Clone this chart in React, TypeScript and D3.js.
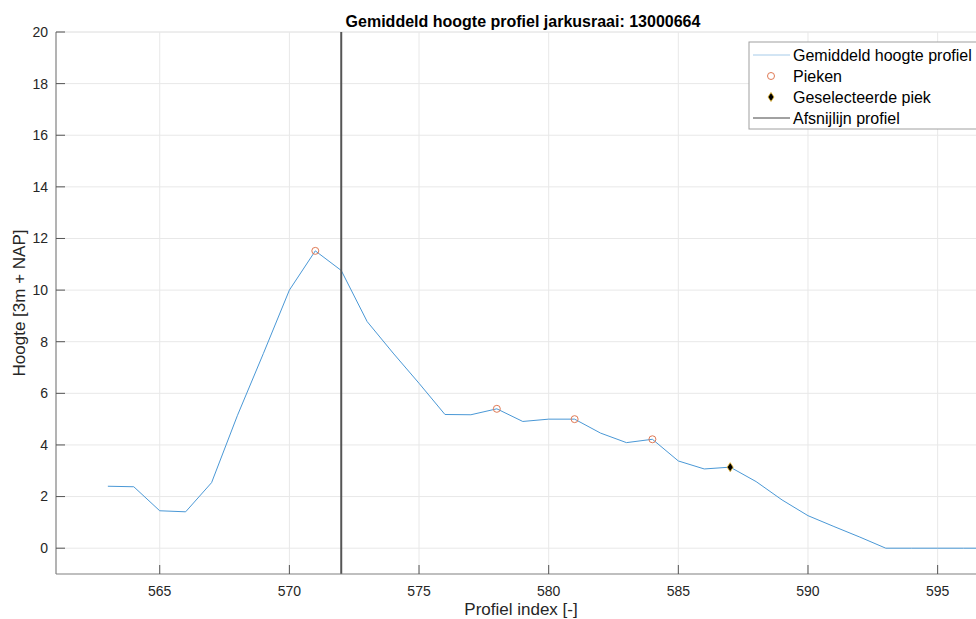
import * as d3 from "d3";
import React from "react";

// profile index and mean height
const profielIndex = [
  563, 564, 565, 566, 567, 568, 569, 570, 571, 572, 573, 574, 575, 576, 577, 578, 579, 580,
  581, 582, 583, 584, 585, 586, 587, 588, 589, 590, 591, 592, 593, 594, 595, 596, 597,
];
const hoogte = [
  2.4, 2.38, 1.45, 1.41, 2.54, 5.15, 7.55, 10.0, 11.52, 10.76, 8.78, 7.56, 6.39, 5.18, 5.17,
  5.4, 4.91, 5.0, 5.0, 4.46, 4.09, 4.22, 3.38, 3.07, 3.14, 2.58, 1.87, 1.26, 0.84, 0.43, 0.0,
  0.0, 0.0, 0.0, 0.0,
];
const piekIndex = [571, 578, 581, 584];
const geselecteerdePiek = 587;
const afsnijlijn = 572;
const xTicks = [565, 570, 575, 580, 585, 590, 595];
const yTicks = [0, 2, 4, 6, 8, 10, 12, 14, 16, 18, 20];
const legendLabels = ["Gemiddeld hoogte profiel", "Pieken", "Geselecteerde piek", "Afsnijlijn profiel"];

const W = 976;
const H = 619;
const left = 56;
const top = 32;
const bottom = 574;
const right = 989.5;

export default function App() {
  const x = d3.scaleLinear().domain([561, 597]).range([left, right]);
  const y = d3.scaleLinear().domain([-1, 20]).range([bottom, top]);

  const pts = profielIndex.map((p, i) => [p, hoogte[i]] as [number, number]);
  const line = d3
    .line<[number, number]>()
    .x((d) => x(d[0]))
    .y((d) => y(d[1]));

  const valAt = (p: number) => hoogte[profielIndex.indexOf(p)];
  const font = "Arial, 'Liberation Sans', Helvetica, sans-serif";
  const diamond = (cx: number, cy: number) =>
    `M${cx},${cy - 4.5}L${cx + 3},${cy}L${cx},${cy + 4.5}L${cx - 3},${cy}Z`;

  const lx = 749;
  const ly = 42;
  const rowH = 21;

  return (
    <svg
      width={W}
      height={H}
      style={{ position: "absolute", left: 0, top: 0, background: "#fff" }}
      fontFamily={font}
    >
      <rect x={0} y={0} width={W} height={H} fill="#fff" />
      {/* grid */}
      {xTicks.map((t) => (
        <line key={"gx" + t} x1={x(t)} x2={x(t)} y1={top} y2={bottom} stroke="#e8e8e8" strokeWidth={1} />
      ))}
      {yTicks.map((t) => (
        <line key={"gy" + t} x1={left} x2={W} y1={y(t)} y2={y(t)} stroke="#e8e8e8" strokeWidth={1} />
      ))}
      <line x1={left} x2={W} y1={top} y2={top} stroke="#e8e8e8" />

      {/* profile line */}
      <path d={line(pts) || ""} fill="none" stroke="#4a98d6" strokeWidth={1} />

      {/* cut-off line */}
      <line x1={x(afsnijlijn)} x2={x(afsnijlijn)} y1={top} y2={bottom} stroke="#555" strokeWidth={2} />

      {/* peaks */}
      {piekIndex.map((p) => (
        <circle key={"pk" + p} cx={x(p)} cy={y(valAt(p))} r={3.5} fill="none" stroke="#e07a55" strokeWidth={1} />
      ))}
      <path
        d={diamond(x(geselecteerdePiek), y(valAt(geselecteerdePiek)))}
        fill="#000"
        stroke="#e8b830"
        strokeWidth={0.8}
      />

      {/* axes */}
      <line x1={left} x2={left} y1={top} y2={bottom} stroke="#808080" strokeWidth={1.2} />
      <line x1={left} x2={W} y1={bottom} y2={bottom} stroke="#808080" strokeWidth={1.2} />
      {yTicks.map((t) => (
        <g key={"yt" + t}>
          <line x1={left} x2={left + 9} y1={y(t)} y2={y(t)} stroke="#555" />
          <text x={left - 8} y={y(t)} dy="0.35em" textAnchor="end" fontSize={14} fill="#262626">
            {t}
          </text>
        </g>
      ))}
      {xTicks.map((t) => (
        <g key={"xt" + t}>
          <line x1={x(t)} x2={x(t)} y1={bottom} y2={bottom - 9} stroke="#555" />
          <text x={x(t)} y={bottom + 22} textAnchor="middle" fontSize={14} fill="#262626">
            {t}
          </text>
        </g>
      ))}

      {/* labels */}
      <text x={523} y={27} textAnchor="middle" fontSize={16} fontWeight="bold" fill="#000">
        Gemiddeld hoogte profiel jarkusraai: 13000664
      </text>
      <text x={521} y={615} textAnchor="middle" fontSize={17} fill="#262626">
        Profiel index [-]
      </text>
      <text
        transform={`translate(25,${(top + bottom) / 2}) rotate(-90)`}
        textAnchor="middle"
        fontSize={17}
        fill="#262626"
      >
        Hoogte [3m + NAP]
      </text>

      {/* legend */}
      <rect x={lx} y={ly} width={260} height={87} fill="#fff" stroke="#a0a0a0" strokeWidth={1} />
      {legendLabels.map((lab, i) => {
        const cy = ly + 13 + i * rowH;
        return (
          <g key={lab}>
            {i === 0 && <line x1={lx + 4} x2={lx + 41} y1={cy} y2={cy} stroke="#a6cbe9" strokeWidth={1} />}
            {i === 1 && <circle cx={lx + 22} cy={cy} r={3.5} fill="none" stroke="#e07a55" strokeWidth={1} />}
            {i === 2 && <path d={diamond(lx + 22, cy)} fill="#000" stroke="#e8b830" strokeWidth={0.8} />}
            {i === 3 && <line x1={lx + 4} x2={lx + 41} y1={cy} y2={cy} stroke="#444" strokeWidth={1} />}
            <text x={lx + 44} y={cy} dy="0.35em" fontSize={16} fill="#000">
              {lab}
            </text>
          </g>
        );
      })}
    </svg>
  );
}
